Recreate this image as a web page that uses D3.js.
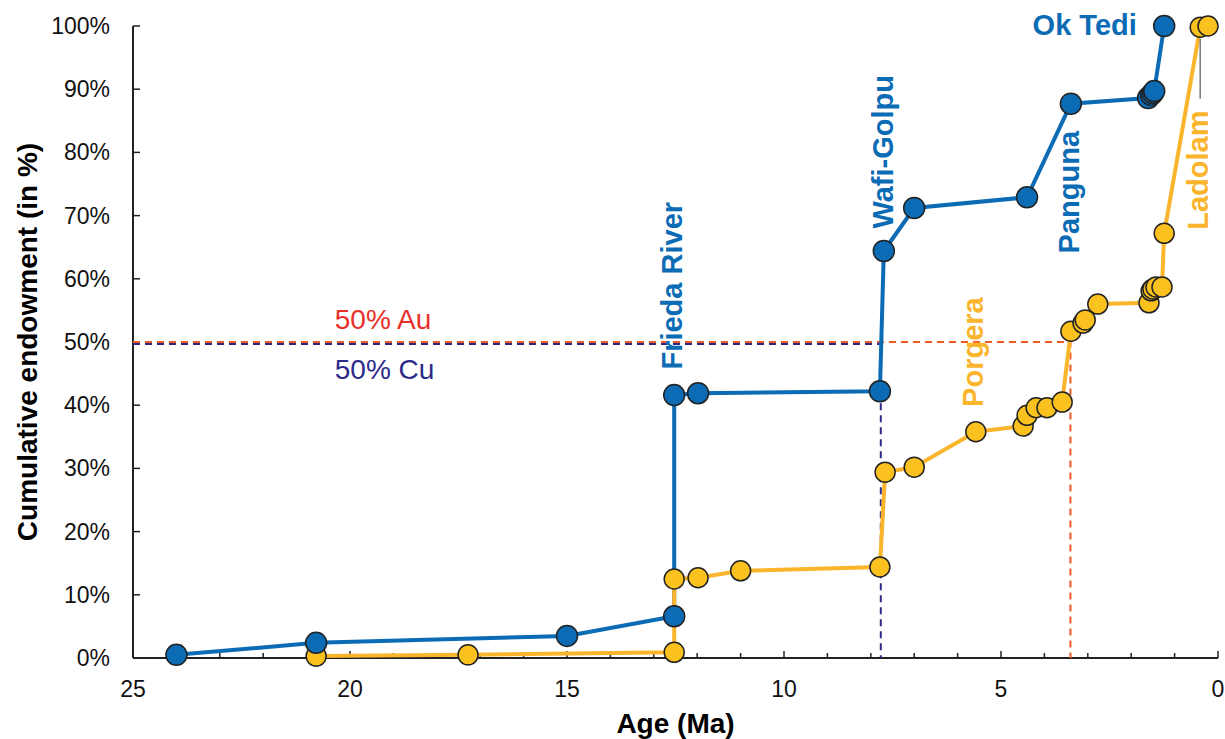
<!DOCTYPE html>
<html>
<head>
<meta charset="utf-8">
<script src="https://cdn.jsdelivr.net/npm/d3@7"></script>
<style>
  body { margin: 0; background: #fff; }
  svg { font-family: "Liberation Sans", Arial, sans-serif; }
</style>
</head>
<body>
<div id="chart"></div>
<script>
// Cu series (blue)
var cuAge = [24.0, 20.78, 15.0, 12.53, 12.53, 11.98, 7.79, 7.70, 7.0, 4.40, 3.39, 1.61, 1.54, 1.50, 1.47, 1.24];
var cuPct = [0.5, 2.4, 3.5, 6.6, 41.6, 41.9, 42.2, 64.4, 71.2, 72.9, 87.7, 88.6, 89.1, 89.4, 89.7, 100];

// Au series (yellow)
var auAge = [20.78, 17.28, 12.53, 12.53, 11.98, 11.0, 7.79, 7.67, 7.0, 5.58, 4.49, 4.40, 4.19, 3.94, 3.59, 3.39, 3.11, 3.06, 2.77, 1.59, 1.54, 1.50, 1.43, 1.29, 1.24, 0.41, 0.23];
var auPct = [0.3, 0.5, 0.9, 12.5, 12.7, 13.8, 14.4, 29.4, 30.2, 35.8, 36.7, 38.4, 39.6, 39.6, 40.5, 51.7, 53.0, 53.5, 56.0, 56.2, 58.1, 58.4, 58.7, 58.7, 67.2, 99.8, 100];

var xTicks = [25, 20, 15, 10, 5, 0];
var yTicks = [0, 10, 20, 30, 40, 50, 60, 70, 80, 90, 100];

// half-endowment ages
var auHalfAge = 3.40;
var cuHalfAge = 7.77;

var blue = "#0b6bb4", yellow = "#fbb52d", yellowFill = "#fbc11f";

var W = 1225, H = 739;
var svg = d3.select("#chart").append("svg").attr("width", W).attr("height", H);

var x = d3.scaleLinear().domain([25, 0]).range([133, 1218]);
var y = d3.scaleLinear().domain([0, 100]).range([658, 26]);

// axes
var xAxis = svg.append("g").attr("transform", "translate(0," + y(0) + ")");
xAxis.append("line").attr("x1", x(25)).attr("x2", x(0)).attr("stroke", "#222").attr("stroke-width", 2);
xAxis.selectAll(".minor").data(d3.range(0, 26)).enter().append("line")
  .attr("x1", d => x(d)).attr("x2", d => x(d))
  .attr("y1", 0).attr("y2", d => d % 5 === 0 ? -7 : -5)
  .attr("stroke", "#222").attr("stroke-width", 1.5);
xAxis.selectAll(".lbl").data(xTicks).enter().append("text")
  .attr("x", d => x(d)).attr("y", 39)
  .attr("text-anchor", "middle").attr("font-size", 23).attr("fill", "#111")
  .text(d => d);

var yAxis = svg.append("g").attr("transform", "translate(" + x(25) + ",0)");
yAxis.append("line").attr("y1", y(0)).attr("y2", y(100)).attr("stroke", "#222").attr("stroke-width", 2);
yAxis.selectAll(".tk").data(yTicks).enter().append("line")
  .attr("x1", 0).attr("x2", 7).attr("y1", d => y(d)).attr("y2", d => y(d))
  .attr("stroke", "#222").attr("stroke-width", 1.5);
yAxis.selectAll(".lbl").data(yTicks).enter().append("text")
  .attr("x", -23).attr("y", d => y(d) + 8)
  .attr("text-anchor", "end").attr("font-size", 23).attr("fill", "#111")
  .text(d => d + "%");

svg.append("text").attr("x", x(12.5)).attr("y", 733)
  .attr("text-anchor", "middle").attr("font-size", 28).attr("font-weight", "bold")
  .text("Age (Ma)");
svg.append("text")
  .attr("transform", "translate(37," + y(50) + ") rotate(-90)")
  .attr("text-anchor", "middle").attr("font-size", 28).attr("font-weight", "bold")
  .text("Cumulative endowment (in %)");

// 50% reference lines
svg.append("path")
  .attr("d", "M" + x(25) + "," + y(50) + "H" + x(auHalfAge) + "V" + y(0))
  .attr("fill", "none").attr("stroke", "#f05a24").attr("stroke-width", 2).attr("stroke-dasharray", "7,5");
svg.append("path")
  .attr("d", "M" + x(25) + "," + y(49.7) + "H" + x(cuHalfAge) + "M" + x(cuHalfAge) + "," + y(cuPct[6]) + "V" + y(0))
  .attr("fill", "none").attr("stroke", "#2d2a8a").attr("stroke-width", 2).attr("stroke-dasharray", "7,5");

svg.append("text").attr("x", x(20.35)).attr("y", 329).attr("font-size", 28).attr("fill", "#e8302a").text("50% Au");
svg.append("text").attr("x", x(20.35)).attr("y", 379).attr("font-size", 28).attr("fill", "#2d2a8a").text("50% Cu");

// series
var cu = cuAge.map((a, i) => [a, cuPct[i]]);
var au = auAge.map((a, i) => [a, auPct[i]]);
var line = d3.line().x(d => x(d[0])).y(d => y(d[1]));

svg.append("path").datum(cu).attr("d", line).attr("fill", "none").attr("stroke", blue).attr("stroke-width", 4);
svg.append("path").datum(au).attr("d", line).attr("fill", "none").attr("stroke", yellow).attr("stroke-width", 4);

// Ladolam leader
svg.append("line").attr("x1", x(0.41)).attr("x2", x(0.41)).attr("y1", y(98)).attr("y2", y(88.5))
  .attr("stroke", "#777").attr("stroke-width", 1.5);

svg.selectAll(".au").data(au).enter().append("circle")
  .attr("cx", d => x(d[0])).attr("cy", d => y(d[1])).attr("r", 10)
  .attr("fill", yellowFill).attr("stroke", "#222").attr("stroke-width", 1.5);
svg.selectAll(".cu").data(cu).enter().append("circle")
  .attr("cx", d => x(d[0])).attr("cy", d => y(d[1])).attr("r", 10.5)
  .attr("fill", blue).attr("stroke", "#222").attr("stroke-width", 1.5);

// deposit labels
function vlabel(text, age, pct, color) {
  svg.append("text")
    .attr("transform", "translate(" + x(age) + "," + y(pct) + ") rotate(-90)")
    .attr("text-anchor", "middle").attr("dominant-baseline", "central")
    .attr("font-size", 29).attr("font-weight", "bold").attr("fill", color)
    .text(text);
}
vlabel("Frieda River", 12.58, 58.9, blue);
vlabel("Wafi-Golpu", 7.72, 80.1, blue);
vlabel("Panguna", 3.43, 73.7, blue);
vlabel("Porgera", 5.65, 48.4, yellow);
vlabel("Ladolam", 0.46, 77.2, yellow);

svg.append("text").attr("x", x(1.87)).attr("y", 35)
  .attr("text-anchor", "end").attr("font-size", 29).attr("font-weight", "bold").attr("fill", blue)
  .text("Ok Tedi");
</script>
</body>
</html>
